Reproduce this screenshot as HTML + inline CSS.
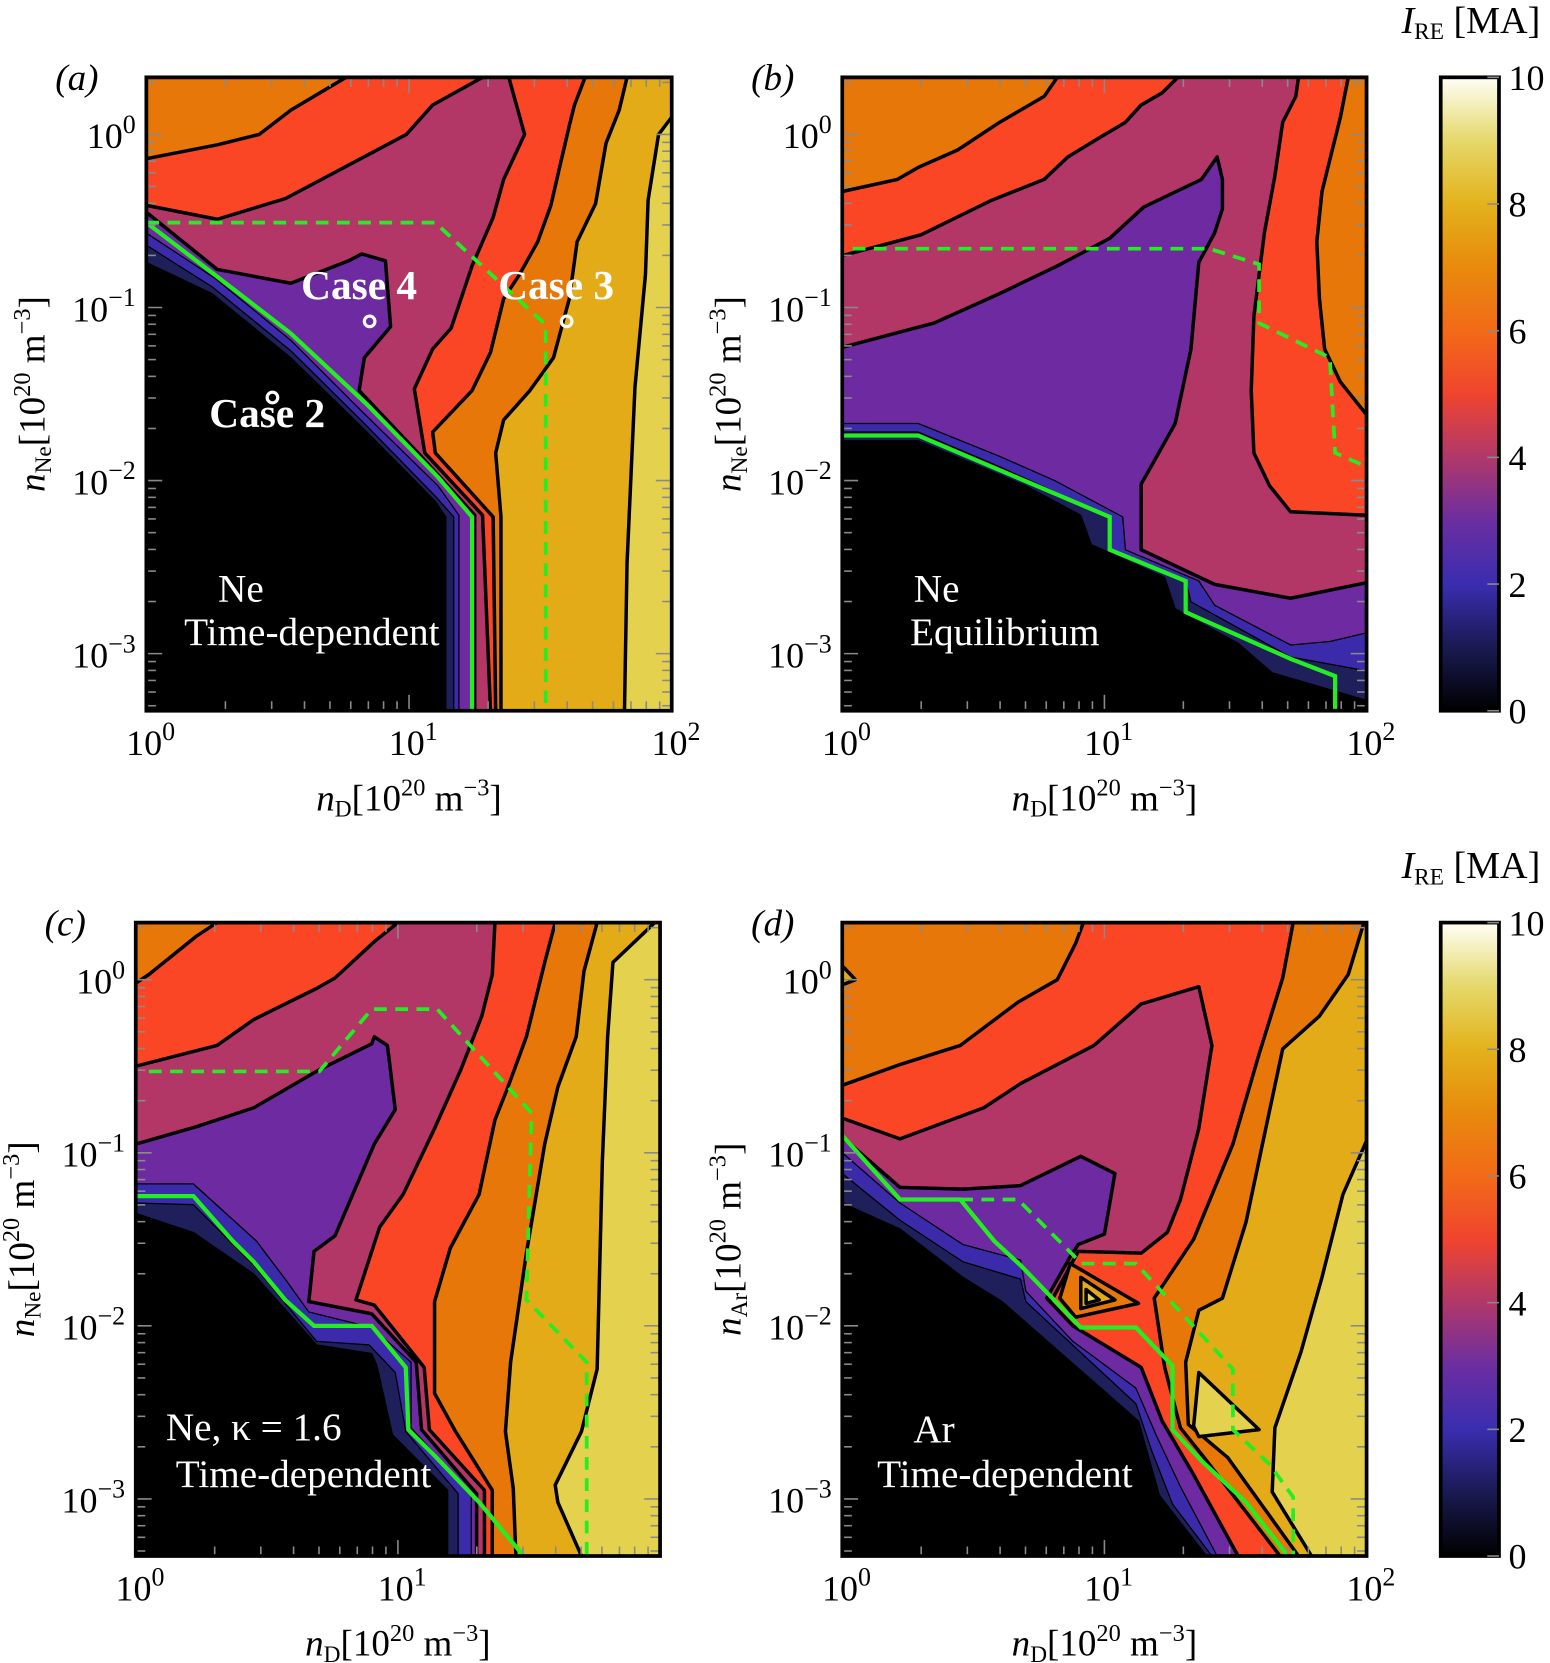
<!DOCTYPE html>
<html><head><meta charset="utf-8"><style>
html,body{margin:0;padding:0;background:#fff;}
svg{display:block;}
text{font-family:"Liberation Serif","DejaVu Serif",serif;}
</style></head><body>
<svg id="fig" width="1550" height="1663" viewBox="0 0 1463 1570" xmlns="http://www.w3.org/2000/svg">
<defs>
<linearGradient id="cbgrad" x1="0" y1="1" x2="0" y2="0">
<stop offset="0" stop-color="#000000"/><stop offset="0.1" stop-color="#1a1a52"/><stop offset="0.2" stop-color="#3a2db0"/><stop offset="0.3" stop-color="#6b2ea0"/><stop offset="0.4" stop-color="#b0386a"/><stop offset="0.5" stop-color="#f0442e"/><stop offset="0.6" stop-color="#f26a18"/><stop offset="0.7" stop-color="#e88a0c"/><stop offset="0.8" stop-color="#e3b21c"/><stop offset="0.9" stop-color="#e5d86a"/><stop offset="1" stop-color="#fffff5"/>
</linearGradient>
</defs>
</svg>
<script>
// ---------- data (log10 nD, log10 nZ) ----------
const xTickVals = [0, 1, 2];
const yTickVals = [0, -1, -2, -3];
const cbTickVals = [0, 2, 4, 6, 8, 10];

// Panel a
const a_gold = [[0,0.33],[2,0.33],[2,0.1],[1.95,0],[1.91,-0.38],[1.90,-0.81],[1.86,-1.46],[1.83,-2.48],[1.82,-3.33],[0,-3.33]];
const a_orange = [[0,0.33],[1.83,0.33],[1.80,0.14],[1.75,-0.05],[1.71,-0.40],[1.64,-0.62],[1.61,-0.95],[1.55,-1.29],[1.46,-1.48],[1.36,-1.65],[1.33,-1.84],[1.35,-2.21],[1.35,-3.33],[0,-3.33]];
const a_red = [[0,0.33],[1.67,0.33],[1.63,0.17],[1.61,0.05],[1.57,-0.21],[1.54,-0.41],[1.49,-0.62],[1.42,-0.81],[1.36,-0.95],[1.31,-1.26],[1.24,-1.48],[1.09,-1.72],[1.10,-1.84],[1.32,-2.21],[1.33,-3.33],[0,-3.33]];
const a_rose = [[0,0.33],[1.38,0.33],[1.44,0],[1.36,-0.26],[1.32,-0.48],[1.24,-0.76],[1.16,-1.12],[1.09,-1.24],[1.02,-1.47],[1.06,-1.84],[1.28,-2.20],[1.31,-3.33],[0,-3.33]];
const a_redTop = [[0,0.33],[1.28,0.33],[1.09,0.17],[0.99,0],[0.53,-0.37],[0.27,-0.49],[0,-0.41]];
const a_orangeTop = [[0,0.33],[0.76,0.33],[0.55,0.14],[0.43,0],[0.27,-0.06],[0,-0.14]];
const a_purple = [[0,-0.45],[0.27,-0.78],[0.55,-0.86],[0.77,-0.73],[0.82,-0.69],[0.91,-0.73],[0.93,-1.11],[0.83,-1.29],[0.81,-1.48],[1.04,-1.85],[1.25,-2.20],[1.25,-3.33],[0,-3.33]];
const a_blue = [[0,-0.57],[0.26,-0.83],[0.55,-1.19],[0.82,-1.60],[1.11,-2.03],[1.19,-2.20],[1.19,-3.33],[0,-3.33]];
const a_navy = [[0,-0.64],[0.25,-0.88],[0.55,-1.25],[0.83,-1.67],[1.10,-2.09],[1.17,-2.21],[1.17,-3.33],[0,-3.33]];
const a_black = [[0,-0.74],[0.25,-0.92],[0.55,-1.29],[0.84,-1.72],[1.10,-2.12],[1.14,-2.21],[1.14,-3.33],[0,-3.33]];
const a_green = [[0,-0.51],[0.26,-0.81],[0.55,-1.15],[0.84,-1.56],[1.11,-1.98],[1.24,-2.21],[1.24,-3.33]];
const a_dash = [[0,-0.51],[1.10,-0.51],[1.52,-1.10],[1.52,-3.33]];
const a_cases = [[0.85,-1.08],[1.60,-1.08],[0.48,-1.52]];
const a_caseNames = ["Case 4","Case 3","Case 2"];
const a_caseLabelPos = [[0.81,-0.95],[1.56,-0.95],[0.46,-1.69]];

// Panel b
const b_red = [[1.74,0.33],[1.73,0.22],[1.68,0.07],[1.65,-0.24],[1.61,-0.57],[1.57,-1.05],[1.56,-1.48],[1.57,-1.84],[1.63,-2.03],[1.71,-2.18],[2,-2.20],[2,0.33]];
const b_orangeR = [[1.93,0.33],[1.90,0.10],[1.83,-0.33],[1.81,-0.62],[1.82,-0.95],[1.84,-1.24],[1.90,-1.43],[2,-1.62],[2,0.33]];
const b_redTop = [[0,0.33],[1.28,0.33],[1.22,0.24],[1.14,0.17],[1.08,0.07],[0.98,-0.02],[0.86,-0.13],[0.77,-0.26],[0.57,-0.38],[0.30,-0.58],[0,-0.70]];
const b_orangeTop = [[0,0.33],[0.82,0.33],[0.77,0.22],[0.60,0.07],[0.44,-0.09],[0.29,-0.19],[0.21,-0.26],[0,-0.33]];
const b_purple = [[0,-1.23],[0.35,-1.09],[0.60,-0.92],[0.82,-0.76],[1.02,-0.60],[1.15,-0.42],[1.37,-0.26],[1.43,-0.13],[1.45,-0.26],[1.45,-0.43],[1.42,-0.57],[1.36,-0.74],[1.33,-1.24],[1.27,-1.67],[1.20,-1.86],[1.14,-2.02],[1.14,-2.40],[1.42,-2.60],[1.71,-2.68],[2,-2.59],[2,-3.33],[0,-3.33]];
const b_blue = [[0,-1.67],[0.29,-1.67],[0.60,-1.86],[0.81,-2.00],[1.07,-2.21],[1.08,-2.40],[1.36,-2.58],[1.42,-2.72],[1.71,-2.95],[1.86,-2.93],[2,-2.88],[2,-3.33],[0,-3.33]];
const b_navy = [[0,-1.72],[0.29,-1.72],[0.60,-1.92],[1.02,-2.21],[1.02,-2.40],[1.31,-2.58],[1.33,-2.70],[1.71,-3.02],[2,-3.10],[2,-3.33],[0,-3.33]];
const b_black = [[0,-1.77],[0.29,-1.77],[0.70,-2.03],[0.91,-2.20],[0.95,-2.37],[1.23,-2.56],[1.27,-2.74],[1.51,-2.94],[1.64,-3.11],[2,-3.27],[2,-3.33],[0,-3.33]];
const b_green = [[0,-1.74],[0.29,-1.74],[1.02,-2.21],[1.02,-2.40],[1.31,-2.58],[1.31,-2.76],[1.71,-3.03],[1.88,-3.13],[1.88,-3.33]];
const b_dash = [[0.04,-0.66],[1.40,-0.66],[1.59,-0.75],[1.59,-1.09],[1.86,-1.29],[1.88,-1.84],[2,-1.92]];

// Panel c
const c_gold = [[0,0.33],[1.98,0.33],[1.82,0.10],[1.80,-0.33],[1.78,-1.05],[1.76,-2.25],[1.70,-2.61],[1.60,-2.92],[1.61,-3.02],[1.70,-3.33],[0,-3.33]];
const c_orange = [[0,0.33],[1.76,0.33],[1.71,0.05],[1.68,-0.33],[1.61,-0.62],[1.56,-0.95],[1.49,-1.58],[1.43,-2.21],[1.41,-2.61],[1.44,-2.94],[1.45,-3.33],[0,-3.33]];
const c_red = [[0,0.33],[1.60,0.33],[1.56,0.10],[1.49,-0.33],[1.42,-0.62],[1.37,-0.81],[1.31,-1.24],[1.20,-1.55],[1.14,-1.86],[1.14,-2.39],[1.22,-2.61],[1.36,-2.95],[1.36,-3.33],[0,-3.33]];
const c_rose = [[0,0.33],[1.37,0.33],[1.36,0.03],[1.32,-0.21],[1.24,-0.52],[1.14,-0.86],[1.02,-1.24],[0.93,-1.43],[0.84,-1.85],[0.91,-1.88],[1.10,-2.24],[1.12,-2.60],[1.33,-2.95],[1.33,-3.33],[0,-3.33]];
const c_redTop = [[0,0.33],[1.00,0.33],[0.91,0.22],[0.76,0.01],[0.69,-0.05],[0.45,-0.23],[0.31,-0.38],[0,-0.50]];
const c_orangeTop = [[0,0.33],[0.31,0.33],[0.23,0.25],[0.05,0.03],[0,-0.02]];
const c_purple = [[0,-0.95],[0.23,-0.85],[0.45,-0.74],[0.70,-0.52],[0.90,-0.37],[0.91,-0.33],[0.96,-0.38],[0.99,-0.75],[0.91,-0.95],[0.76,-1.48],[0.68,-1.57],[0.66,-1.86],[0.90,-1.93],[1.07,-2.21],[1.09,-2.60],[1.30,-2.97],[1.30,-3.33],[0,-3.33]];
const c_blue = [[0,-1.18],[0.22,-1.18],[0.46,-1.51],[0.57,-1.73],[0.66,-1.92],[0.90,-2.01],[1.05,-2.21],[1.05,-2.59],[1.28,-2.97],[1.28,-3.33],[0,-3.33]];
const c_navy = [[0,-1.29],[0.22,-1.30],[0.45,-1.65],[0.69,-2.09],[0.89,-2.11],[0.99,-2.27],[1.03,-2.61],[1.23,-2.97],[1.23,-3.33],[0,-3.33]];
const c_black = [[0,-1.35],[0.22,-1.46],[0.45,-1.70],[0.69,-2.11],[0.90,-2.16],[0.92,-2.23],[0.98,-2.63],[1.19,-2.95],[1.19,-3.33],[0,-3.33]];
const c_green = [[0,-1.25],[0.22,-1.25],[0.37,-1.51],[0.45,-1.63],[0.57,-1.85],[0.68,-2.00],[0.90,-2.00],[1.03,-2.24],[1.04,-2.60],[1.14,-2.75],[1.31,-3.02],[1.48,-3.33]];
const c_dash = [[0.05,-0.53],[0.70,-0.53],[0.90,-0.17],[1.15,-0.17],[1.51,-0.77],[1.49,-1.85],[1.72,-2.21],[1.72,-3.33]];

// Panel d
const d_gold = [[0,0.33],[2,0.33],[2,-0.93],[1.91,-1.24],[1.83,-1.72],[1.75,-2.15],[1.65,-2.59],[1.64,-2.96],[1.79,-3.33],[0,-3.33]];
const d_orange = [[0,0.33],[1.99,0.33],[1.93,0.03],[1.82,-0.21],[1.68,-0.40],[1.60,-0.97],[1.54,-1.40],[1.45,-1.84],[1.36,-1.91],[1.31,-2.21],[1.32,-2.57],[1.47,-2.76],[1.74,-3.33],[0,-3.33]];
const d_red = [[0,0.33],[1.72,0.33],[1.68,0.01],[1.59,-0.43],[1.49,-0.95],[1.34,-1.50],[1.19,-1.84],[1.23,-2.24],[1.29,-2.59],[1.38,-2.76],[1.67,-3.33],[0,-3.33]];
const d_orangeTop = [[0,0.33],[0.92,0.33],[0.89,0.21],[0.82,0],[0.67,-0.13],[0.45,-0.38],[0.22,-0.49],[0,-0.61]];
const d_rose = [[0,-0.80],[0.22,-0.92],[0.54,-0.74],[0.68,-0.60],[0.96,-0.38],[1.14,-0.14],[1.36,-0.04],[1.41,-0.38],[1.36,-0.86],[1.29,-1.27],[1.24,-1.46],[1.14,-1.58],[0.90,-1.57],[0.80,-1.85],[0,-1.85]];
const d_purple = [[0,-0.91],[0.22,-1.20],[0.46,-1.21],[0.68,-1.19],[0.91,-1.02],[1.04,-1.12],[1.00,-1.47],[0.90,-1.53],[0.87,-1.60],[0.78,-1.84],[0.88,-2.00],[1.14,-2.24],[1.22,-2.55],[1.34,-2.86],[1.51,-3.33],[0,-3.33]];
const d_blue = [[0,-1.00],[0.22,-1.29],[0.46,-1.53],[0.68,-1.62],[0.70,-1.80],[0.88,-2.09],[1.12,-2.36],[1.20,-2.64],[1.29,-2.93],[1.43,-3.33],[0,-3.33]];
const d_navy = [[0,-1.12],[0.22,-1.39],[0.46,-1.63],[0.68,-1.73],[0.70,-1.86],[1.12,-2.45],[1.18,-2.72],[1.26,-3.03],[1.41,-3.33],[0,-3.33]];
const d_black = [[0,-1.29],[0.22,-1.44],[0.46,-1.72],[0.61,-1.86],[1.13,-2.55],[1.21,-2.98],[1.39,-3.33],[0,-3.33]];
const d_island1 = [[0.87,-1.64],[1.13,-1.87],[0.89,-1.95],[0.83,-1.84]];
const d_island1b = [[0.91,-1.72],[1.04,-1.85],[0.91,-1.90]];
const d_island1c = [[0.93,-1.79],[0.98,-1.85],[0.93,-1.87]];
const d_island2 = [[1.36,-2.27],[1.59,-2.60],[1.36,-2.64],[1.34,-2.58]];
const d_island3 = [[0,0.08],[0.05,0.00],[0,-0.03]];
const d_green = [[0,-0.90],[0.22,-1.27],[0.45,-1.27],[0.58,-1.51],[0.68,-1.65],[0.91,-2.01],[1.12,-2.01],[1.26,-2.23],[1.26,-2.60],[1.37,-2.78],[1.54,-3.02],[1.70,-3.33]];
const d_dash = [[0.45,-1.27],[0.67,-1.27],[0.88,-1.59],[0.91,-1.64],[1.12,-1.64],[1.49,-2.25],[1.49,-2.60],[1.63,-2.80],[1.72,-2.99],[1.72,-3.33]];

// ---------- styles ----------
const COL = {black:"#000000",navy:"#1f1f5c",blue:"#3b2bab",purple:"#6e2aa0",rose:"#b33766",red:"#fb4626",orange:"#e8770a",gold:"#e3ab17",yellow:"#e4d24f"};
const panels = [
 {id:"a",x0:138,x1:634,y0:73,y1:671,bg:COL.yellow,xt:true,yvar:"Ne",
  layers:[["gold",a_gold,COL.gold],["orange",a_orange,COL.orange],["red",a_red,COL.red],["rose",a_rose,COL.rose],["red-top",a_redTop,COL.red],["orange-top",a_orangeTop,COL.orange],["purple",a_purple,COL.purple],["blue",a_blue,COL.blue],["navy",a_navy,COL.navy],["black",a_black,COL.black]],
  green:a_green,dash:a_dash,title1:"Ne",title2:"Time-dependent",t1:[0.36,-2.70],t2:[0.63,-2.95]},
 {id:"b",x0:795,x1:1290,y0:73,y1:671,bg:COL.rose,xt:true,yvar:"Ne",
  layers:[["red-right",b_red,COL.red],["orange-right",b_orangeR,COL.orange],["red-top",b_redTop,COL.red],["orange-top",b_orangeTop,COL.orange],["purple",b_purple,COL.purple],["blue",b_blue,COL.blue],["navy",b_navy,COL.navy],["black",b_black,COL.black]],
  green:b_green,dash:b_dash,title1:"Ne",title2:"Equilibrium",t1:[0.36,-2.70],t2:[0.62,-2.95]},
 {id:"c",x0:128,x1:623,y0:871,y1:1469,bg:COL.yellow,xt:false,yvar:"Ne",
  layers:[["gold",c_gold,COL.gold],["orange",c_orange,COL.orange],["red",c_red,COL.red],["rose",c_rose,COL.rose],["red-top",c_redTop,COL.red],["orange-top",c_orangeTop,COL.orange],["purple",c_purple,COL.purple],["blue",c_blue,COL.blue],["navy",c_navy,COL.navy],["black",c_black,COL.black]],
  green:c_green,dash:c_dash,title1:"Ne, \u03BA = 1.6",title2:"Time-dependent",t1:[0.45,-2.66],t2:[0.64,-2.93]},
 {id:"d",x0:795,x1:1290,y0:871,y1:1469,bg:COL.yellow,xt:true,yvar:"Ar",
  layers:[["gold",d_gold,COL.gold],["orange",d_orange,COL.orange],["red",d_red,COL.red],["orange-top",d_orangeTop,COL.orange],["rose",d_rose,COL.rose],["purple",d_purple,COL.purple],["blue",d_blue,COL.blue],["navy",d_navy,COL.navy],["black",d_black,COL.black],["island-1",d_island1,COL.orange],["island-1-inner",d_island1b,COL.gold],["island-1-core",d_island1c,COL.yellow],["island-2",d_island2,COL.yellow],["island-3",d_island3,COL.gold]],
  green:d_green,dash:d_dash,title1:"Ar",title2:"Time-dependent",t1:[0.35,-2.67],t2:[0.62,-2.93]}
];
const YTOP = 0.33, YBOT = -3.33, XMAX = 2;
function X(p, lx){ return p.x0 + lx / XMAX * (p.x1 - p.x0); }
function Y(p, ly){ return p.y0 + (YTOP - ly) / (YTOP - YBOT) * (p.y1 - p.y0); }
const NS = "http://www.w3.org/2000/svg";
const svg = document.getElementById("fig");
function mk(tag, attrs, parent){ const e = document.createElementNS(NS, tag); for (const k in attrs) e.setAttribute(k, attrs[k]); (parent||svg).appendChild(e); return e; }
function pts(p, arr){ return arr.map(function(q){ return X(p,q[0]).toFixed(1)+","+Y(p,q[1]).toFixed(1); }).join(" "); }
function pow10(parent, x, y, exp, anchor, size){
  const t = mk("text", {x:x, y:y, "font-size":size, "text-anchor":anchor, fill:"#000"}, parent);
  
  
  const a = document.createElementNS(NS,"tspan"); a.textContent = "10"; t.appendChild(a);
  const b = document.createElementNS(NS,"tspan"); b.setAttribute("dy", -size*0.42); b.setAttribute("font-size", size*0.72); b.textContent = exp; t.appendChild(b);
  return t;
}
function minus(v){ return v < 0 ? "\u2212" + Math.abs(v) : String(v); }

panels.forEach(function(p){
  const g = mk("g", {});
  
  
  const cp = mk("clipPath", {id:"clip-"+p.id}, g);
  mk("rect", {x:p.x0, y:p.y0, width:p.x1-p.x0, height:p.y1-p.y0}, cp);
  const plot = mk("g", {"clip-path":"url(#clip-"+p.id+")"}, g);
  
  
  const bg = mk("rect", {x:p.x0, y:p.y0, width:p.x1-p.x0, height:p.y1-p.y0, fill:p.bg}, plot);
  
  
  p.layers.forEach(function(L){
    const thin = (L[0]==="blue"||L[0]==="navy"||L[0]==="black");
    const poly = mk("polygon", {points:pts(p, L[1]), fill:L[2], stroke:"#000", "stroke-width": thin ? 1.2 : 3.3, "stroke-linejoin":"round"}, plot);
    
    
  });
  const gl = mk("polyline", {points:pts(p, p.green), fill:"none", stroke:"#22ee22", "stroke-width":4}, plot);
  
  
  const dl = mk("polyline", {points:pts(p, p.dash), fill:"none", stroke:"#22ee22", "stroke-width":3.5, "stroke-dasharray":"12 8"}, plot);
  
  
  const tg = mk("g", {stroke:"#8a8a8a", "stroke-width":1.5}, g);
  
  
  for (let dec = 0; dec < 2; dec++) for (let m = 1; m <= 9; m++) {
    const lx = dec + Math.log10(m); if (lx <= 0) continue;
    const x = X(p, lx), len = m===1 ? 15 : 9;
    mk("line", {x1:x, x2:x, y1:p.y1, y2:p.y1-len}, tg);
    mk("line", {x1:x, x2:x, y1:p.y0, y2:p.y0+len}, tg);
  }
  for (let dec = -4; dec < 1; dec++) for (let m = 1; m <= 9; m++) {
    const ly = dec + Math.log10(m); if (ly <= YBOT || ly >= YTOP) continue;
    const y = Y(p, ly), len = m===1 ? 15 : 9;
    mk("line", {x1:p.x0, x2:p.x0+len, y1:y, y2:y}, tg);
    mk("line", {x1:p.x1, x2:p.x1-len, y1:y, y2:y}, tg);
  }
  const fr = mk("rect", {x:p.x0, y:p.y0, width:p.x1-p.x0, height:p.y1-p.y0, fill:"none", stroke:"#000", "stroke-width":3.5}, g);
  
  
  xTickVals.forEach(function(v){
    if (!p.xt && v === 2) return;
    pow10(g, X(p,v)+4, p.y1+42, String(v), "middle", 34);
  });
  yTickVals.forEach(function(v){
    pow10(g, p.x0-10, Y(p,v)+13, minus(v), "end", 34);
  });
  const xtl = mk("text", {x:(p.x0+p.x1)/2, y:p.y1+94, "font-size":35, "text-anchor":"middle"}, g);
  
  
  xtl.innerHTML = '<tspan font-style="italic">n</tspan><tspan font-size="22" dy="6">D</tspan><tspan dy="-6">[10</tspan><tspan font-size="23" dy="-14">20</tspan><tspan dy="14"> m</tspan><tspan font-size="23" dy="-14">\u22123</tspan><tspan dy="14">]</tspan>';
  const cy = (p.y0+p.y1)/2, cx = p.x0 - 96;
  const ytl = mk("text", {x:cx, y:cy, "font-size":35, "text-anchor":"middle", transform:"rotate(-90 "+cx+" "+cy+")"}, g);
  
  
  ytl.innerHTML = '<tspan font-style="italic">n</tspan><tspan font-size="22" dy="6">'+p.yvar+'</tspan><tspan dy="-6">[10</tspan><tspan font-size="23" dy="-14">20</tspan><tspan dy="14"> m</tspan><tspan font-size="23" dy="-14">\u22123</tspan><tspan dy="14">]</tspan>';
  const pl = mk("text", {x:p.x0-86, y:p.y0+12, "font-size":35, "font-style":"italic"}, g);
  
  
  pl.textContent = "(" + p.id + ")";
  [[p.title1,p.t1],[p.title2,p.t2]].forEach(function(T, i){
    const t = mk("text", {x:X(p,T[1][0]), y:Y(p,T[1][1]), "font-size":37, fill:"#fff", "text-anchor":"middle"}, g);
    
    
    t.textContent = T[0];
  });
  if (p.id === "a") {
    a_cases.forEach(function(c, i){
      const m = mk("circle", {cx:X(p,c[0]), cy:Y(p,c[1]), r:5, fill:"none", stroke:"#fff", "stroke-width":3}, g);
      
      
      const lp = a_caseLabelPos[i];
      const t = mk("text", {x:X(p,lp[0]), y:Y(p,lp[1]), "font-size":39, "font-weight":"bold", fill:"#fff", "text-anchor":"middle"}, g);
      
      
      t.textContent = a_caseNames[i];
    });
  }
});

[[73,671],[871,1469]].forEach(function(r, k){
  const g = mk("g", {});
  
  
  const bar = mk("rect", {x:1360, y:r[0], width:55, height:r[1]-r[0], fill:"url(#cbgrad)", stroke:"#000", "stroke-width":3.5}, g);
  
  
  cbTickVals.forEach(function(v){
    const y = r[1] - v/10*(r[1]-r[0]);
    const tk = mk("line", {x1:1404, x2:1415, y1:y, y2:y, stroke:"#8a8a8a", "stroke-width":1.5}, g);
    
    
    const t = mk("text", {x:1424, y:y+12, "font-size":34}, g);
    
    
    t.textContent = String(v);
  });
  const tt = mk("text", {x:1454, y:r[0]-42, "font-size":36, "text-anchor":"end"}, g);
  
  
  tt.innerHTML = '<tspan font-style="italic">I</tspan><tspan font-size="22" dy="6">RE</tspan><tspan dy="-6"> [MA]</tspan>';
});
</script>
</body></html>
